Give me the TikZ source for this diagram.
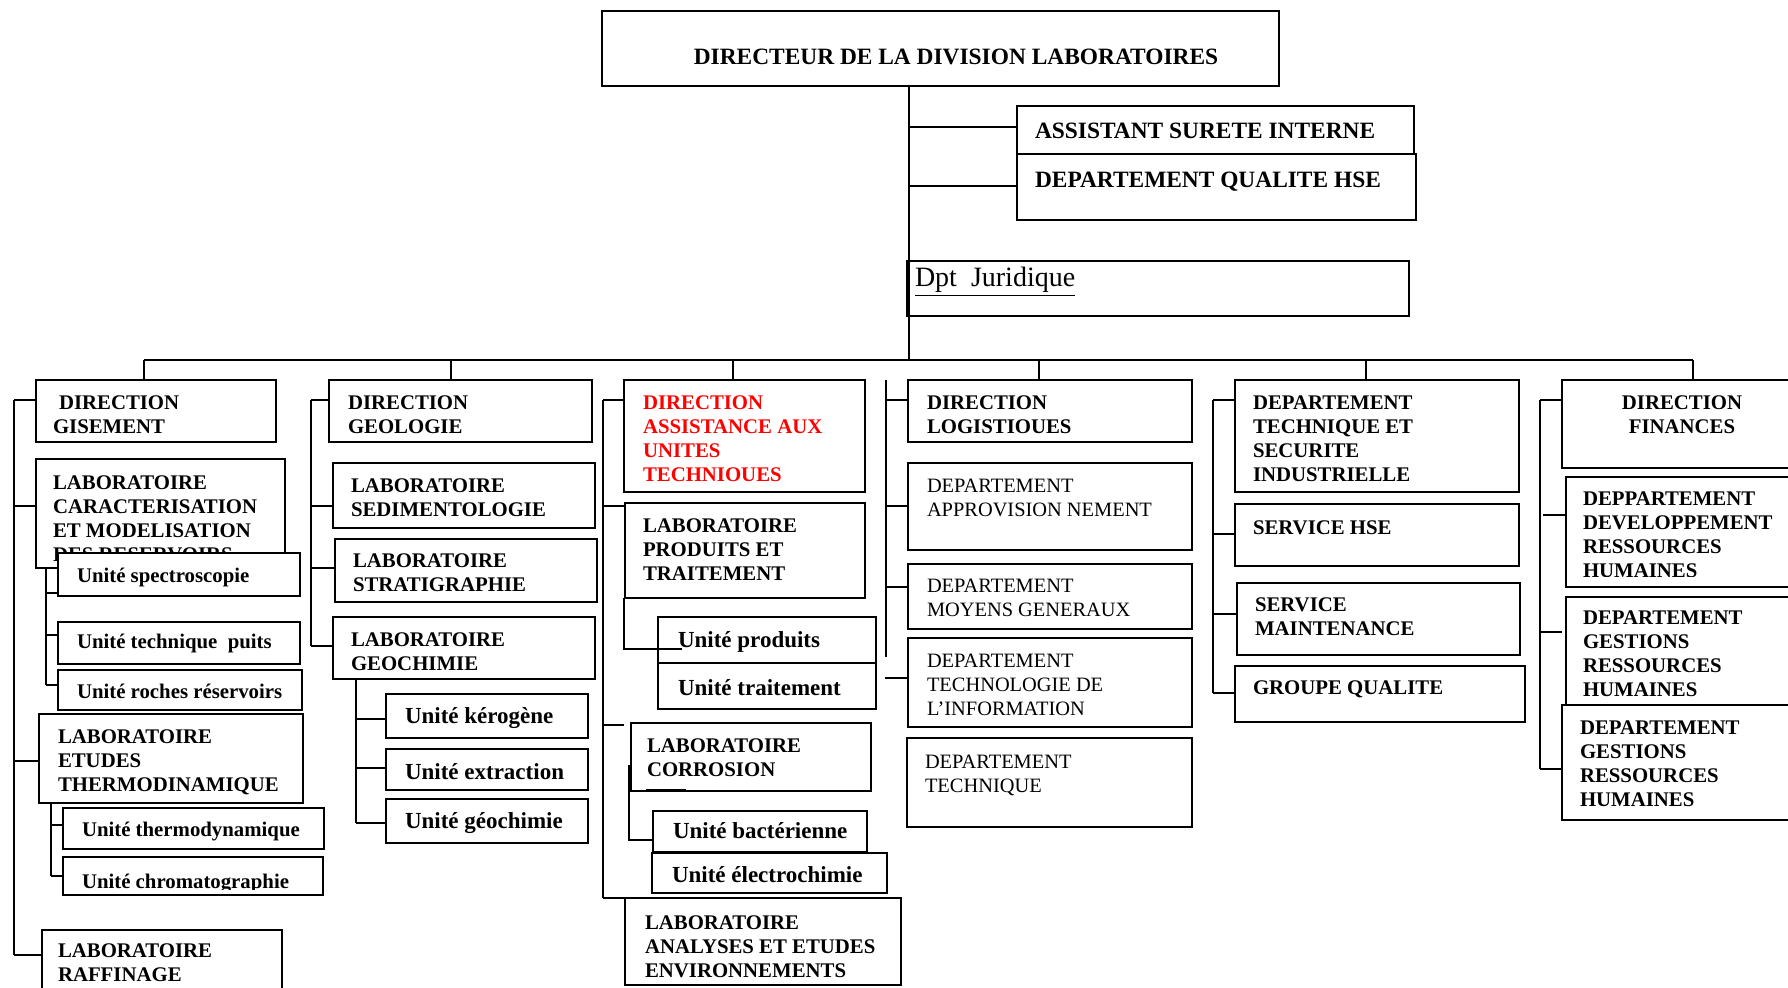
\documentclass[tikz,border=0pt]{standalone}
\usepackage{fontspec}
\setmainfont{Liberation Serif}
\newcommand\mkbox[6][]{\node[box,#1,minimum width={(#5-#3)*0.5pt},minimum height={(#6-#4)*0.5pt}] (#2) at ({#3},{#4}) {};}
\newcommand\mktxt[5][]{\node[txt,#1] (#2) at ({#3},{#4-14.3}) {#5};}
\begin{document}
\begin{tikzpicture}[x=0.5pt,y=-0.5pt,
  box/.style={draw=black,line width=0.8pt,fill=white,rectangle,inner sep=0pt,outer sep=0pt,anchor=north west},
  conn/.style={draw=black,line width=0.8pt},
  thickbit/.style={draw=black,line width=1.4pt},
  txt/.style={inner sep=0pt,outer sep=0pt,anchor=north west,align=left,font=\bfseries\fontsize{10.4}{12}\selectfont,execute at begin node={\strut}},
  unitA/.style={font=\bfseries\fontsize{10.4}{12}\selectfont},
  unitB/.style={font=\bfseries\fontsize{11.5}{12}\selectfont},
  reg/.style={font=\fontsize{10.2}{12}\selectfont},
  head/.style={font=\bfseries\fontsize{11.7}{12}\selectfont},
]
\useasboundingbox (0,0) rectangle (1788,988);
\clip (0,0) rectangle (1788,988);

% ---------- top ----------
\mkbox{top}{602}{11}{1279}{86}
\node[txt,head,anchor=base] (top-t) at (956,65) {DIRECTEUR DE LA DIVISION LABORATOIRES};
\mkbox{asst}{1017}{106}{1414}{154}
\node[txt,head,anchor=base west] (asst-t) at (1035,139) {ASSISTANT SURETE INTERNE};
\mkbox{qual}{1017}{154}{1416}{220}
\node[txt,head,anchor=base west] (qual-t) at (1035,188) {DEPARTEMENT QUALITE HSE};
\mkbox{jur}{907}{261}{1409}{316}
\node[txt,font=\fontsize{14}{15}\selectfont,anchor=base west] (jur-t) at (915,287) {\underline{Dpt\ \ Juridique}};

% ---------- column 1 ----------
\mkbox{gis}{36}{380}{276}{442}
\mktxt{gis-t}{53}{410}{\hspace{3pt}DIRECTION\\GISEMENT}
\mkbox{labcar}{36}{459}{285}{568}
\mktxt{labcar-t}{53}{490}{LABORATOIRE\\CARACTERISATION\\ET MODELISATION\\DES RESERVOIRS}
\mkbox{uspec}{58}{553}{300}{596}
\mktxt[unitA]{uspec-t}{77}{580}{Unité spectroscopie}
\mkbox{upuits}{58}{622}{300}{664}
\mktxt[unitA]{upuits-t}{77}{646}{Unité technique\ \ puits}
\mkbox{uroch}{58}{670}{302}{710}
\mktxt[unitA]{uroch-t}{77}{696}{Unité roches réservoirs}
\mkbox{labthe}{39}{714}{303}{803}
\mktxt{labthe-t}{58}{744}{LABORATOIRE\\ETUDES\\THERMODINAMIQUE}
\mkbox{uthe}{63}{808}{324}{849}
\mktxt[unitA]{uthe-t}{82}{834}{Unité thermodynamique}
\mkbox{uchr}{63}{857}{323}{895}
\begin{scope}
\clip (60,850) rectangle (330,889);
\mktxt[unitA]{uchr-t}{82}{886}{Unité chromatographie}
\end{scope}
\mkbox{labraf}{42}{930}{282}{1010}
\mktxt{labraf-t}{58}{958}{LABORATOIRE\\RAFFINAGE}

% ---------- column 2 ----------
\mkbox{geo}{329}{380}{592}{442}
\mktxt{geo-t}{348}{410}{DIRECTION\\GEOLOGIE}
\mkbox{labsed}{333}{463}{595}{528}
\mktxt{labsed-t}{351}{493}{LABORATOIRE\\SEDIMENTOLOGIE}
\mkbox{labstr}{335}{539}{597}{602}
\mktxt{labstr-t}{353}{568}{LABORATOIRE\\STRATIGRAPHIE}
\mkbox{labgeo}{333}{617}{595}{679}
\mktxt{labgeo-t}{351}{647}{LABORATOIRE\\GEOCHIMIE}
\mkbox{uker}{386}{694}{588}{738}
\mktxt[unitB]{uker-t}{405}{721}{Unité kérogène}
\mkbox{uext}{386}{749}{588}{790}
\mktxt[unitB]{uext-t}{405}{777}{Unité extraction}
\mkbox{ugeo}{386}{799}{588}{843}
\mktxt[unitB]{ugeo-t}{405}{826}{Unité géochimie}

% ---------- column 3 ----------
\mkbox{dau}{624}{380}{865}{492}
\mktxt[text=red]{dau-t}{643}{410}{DIRECTION\\ASSISTANCE AUX\\UNITES\\TECHNIOUES}
\mkbox{labprod}{625}{503}{865}{598}
\mktxt{labprod-t}{643}{533}{LABORATOIRE\\PRODUITS ET\\TRAITEMENT}
\mkbox{uprod}{658}{617}{876}{663}
\mktxt[unitB]{uprod-t}{678}{645}{Unité produits}
\mkbox{utrait}{658}{663}{876}{709}
\mktxt[unitB]{utrait-t}{678}{693}{Unité traitement}
\mkbox{labcor}{631}{723}{871}{791}
\mktxt{labcor-t}{647}{753}{LABORATOIRE\\CORROSION}
\mkbox{ubac}{653}{811}{867}{852}
\mktxt[unitB]{ubac-t}{673}{836}{Unité bactérienne}
\mkbox{uelec}{652}{853}{887}{893}
\mktxt[unitB]{uelec-t}{672}{880}{Unité électrochimie}
\mkbox{labana}{625}{898}{901}{985}
\mktxt{labana-t}{645}{930}{LABORATOIRE\\ANALYSES ET ETUDES\\ENVIRONNEMENTS}

% ---------- column 4 ----------
\mkbox{log}{908}{380}{1192}{442}
\mktxt{log-t}{927}{410}{DIRECTION\\LOGISTIOUES}
\mkbox{appro}{908}{463}{1192}{550}
\mktxt[reg]{appro-t}{927}{493}{DEPARTEMENT\\APPROVISION NEMENT}
\mkbox{moy}{908}{564}{1192}{629}
\mktxt[reg]{moy-t}{927}{593}{DEPARTEMENT\\MOYENS GENERAUX}
\mkbox{techno}{908}{638}{1192}{727}
\mktxt[reg]{techno-t}{927}{668}{DEPARTEMENT\\TECHNOLOGIE DE\\L’INFORMATION}
\mkbox{tech}{907}{738}{1192}{827}
\mktxt[reg]{tech-t}{925}{769}{DEPARTEMENT\\TECHNIQUE}

% ---------- column 5 ----------
\mkbox{dtsi}{1235}{380}{1519}{492}
\mktxt{dtsi-t}{1253}{410}{DEPARTEMENT\\TECHNIQUE ET\\SECURITE\\INDUSTRIELLE}
\mkbox{shse}{1235}{504}{1519}{566}
\mktxt{shse-t}{1253}{532}{SERVICE HSE}
\mkbox{smaint}{1237}{583}{1520}{655}
\mktxt{smaint-t}{1255}{612}{SERVICE\\MAINTENANCE}
\mkbox{gq}{1235}{666}{1525}{722}
\mktxt{gq-t}{1253}{692}{GROUPE QUALITE}

% ---------- column 6 ----------
\mkbox{fin}{1562}{380}{1810}{468}
\node[txt,align=center,anchor=north] (fin-t) at (1682,{410-14.3}) {DIRECTION\\FINANCES};
\mkbox{ddrh}{1566}{477}{1810}{587}
\begin{scope}
\clip (1560,470) rectangle (1800,577);
\mktxt{ddrh-t}{1583}{506}{DEPPARTEMENT\\DEVELOPPEMENT\\RESSOURCES\\HUMAINES}
\end{scope}
\mkbox{dgrh1}{1566}{597}{1810}{705}
\mktxt{dgrh1-t}{1583}{625}{DEPARTEMENT\\GESTIONS\\RESSOURCES\\HUMAINES}
\mkbox{dgrh2}{1562}{705}{1810}{820}
\mktxt{dgrh2-t}{1580}{735}{DEPARTEMENT\\GESTIONS\\RESSOURCES\\HUMAINES}

% ---------- connectors ----------
\coordinate (b0) at (909,360);
\draw[conn] (top.south -| b0) -- (b0);
\draw[conn] (909,127) -- (909,127 -| asst.west);
\draw[conn] (909,186) -- (909,186 -| qual.west);
\draw[conn] (144,360) -- (1693,360);
\draw[conn] (144,360) -- (144,360 |- gis.north);
\draw[conn] (451,360) -- (451,360 |- geo.north);
\draw[conn] (733,360) -- (733,360 |- dau.north);
\draw[conn] (1039,360) -- (1039,360 |- log.north);
\draw[conn] (1366,360) -- (1366,360 |- dtsi.north);
\draw[conn] (1693,360) -- (1693,360 |- fin.north);

% column 1
\draw[conn] (14,400) -- (14,955);
\draw[conn] (14,400) -- (14,400 -| gis.west);
\draw[conn] (14,506) -- (14,506 -| labcar.west);
\draw[conn] (14,761) -- (14,761 -| labthe.west);
\draw[conn] (14,955) -- (14,955 -| labraf.west);
\draw[conn] (46,568 |- labcar.south) -- (46,685);
\draw[conn] (46,593) -- (46,593 -| uspec.west);
\draw[conn] (46,635) -- (46,635 -| upuits.west);
\draw[conn] (46,685) -- (46,685 -| uroch.west);
\draw[conn] (51,803 |- labthe.south) -- (51,876);
\draw[conn] (51,825) -- (51,825 -| uthe.west);
\draw[conn] (51,876) -- (51,876 -| uchr.west);

% column 2
\draw[conn] (311,400) -- (311,646);
\draw[conn] (311,400) -- (311,400 -| geo.west);
\draw[conn] (311,506) -- (311,506 -| labsed.west);
\draw[conn] (311,568) -- (311,568 -| labstr.west);
\draw[conn] (311,646) -- (311,646 -| labgeo.west);
\draw[conn] (356,679 |- labgeo.south) -- (356,823);
\draw[conn] (356,719) -- (356,719 -| uker.west);
\draw[conn] (356,768) -- (356,768 -| uext.west);
\draw[conn] (356,823) -- (356,823 -| ugeo.west);

% column 3
\draw[conn] (603,400) -- (603,898);
\draw[conn] (603,400) -- (603,400 -| dau.west);
\draw[conn] (603,506) -- (603,506 -| labprod.west);
\coordinate (corstub) at (624,725);
\draw[conn] (603,725) -- (corstub);
\draw[conn] (603,898) -- (labana.north west);
\coordinate (prodend) at (682,649);
\draw[conn] (624,598 |- labprod.south) -- (624,649) -- (prodend);
\draw[thickbit] (637,598) -- (662,598);
\draw[thickbit] (uprod.south west) -- (uprod.south east);
\draw[conn] (629,765) -- (629,840) -- (629,840 -| ubac.west);
\draw[thickbit] (629,765) -- (629,791);
\draw[thickbit] (646,790) -- (686,790);

% column 4
\draw[conn] (886,380) -- (886,657);
\draw[conn] (886,400) -- (886,400 -| log.west);
\draw[conn] (886,506) -- (886,506 -| appro.west);
\draw[conn] (886,587) -- (886,587 -| moy.west);
\draw[conn] (885,678) -- (885,678 -| techno.west);

% column 5
\draw[conn] (1213,400) -- (1213,693);
\draw[conn] (1213,400) -- (1213,400 -| dtsi.west);
\draw[conn] (1213,534) -- (1213,534 -| shse.west);
\draw[conn] (1213,614) -- (1213,614 -| smaint.west);
\draw[conn] (1213,693) -- (1213,693 -| gq.west);

% column 6
\draw[conn] (1540,400) -- (1540,769);
\draw[conn] (1540,400) -- (1540,400 -| fin.west);
\draw[conn] (1543,515) -- (1543,515 -| ddrh.west);
\coordinate (gstub) at (1562,632);
\draw[conn] (1540,632) -- (gstub);
\draw[conn] (1540,769) -- (1540,769 -| dgrh2.west);
\end{tikzpicture}
\end{document}
